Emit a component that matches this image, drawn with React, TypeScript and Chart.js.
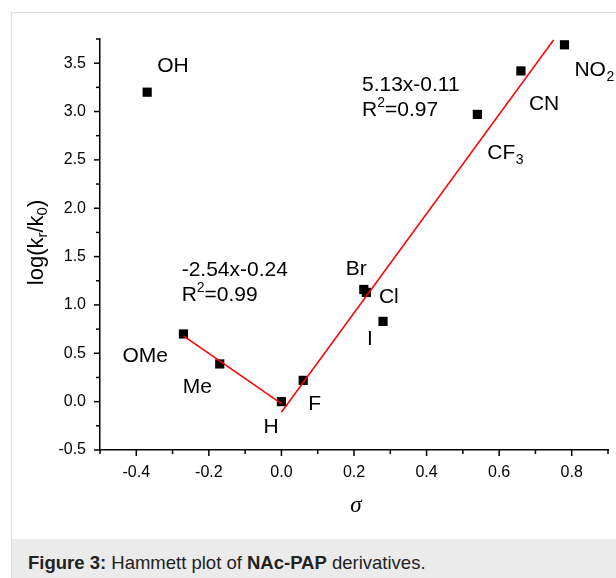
import React, { useEffect, useRef } from "react";
import { Chart, registerables } from "chart.js";

Chart.register(...registerables);

// ---------- data ----------
const substituents = ["OH", "OMe", "Me", "H", "F", "Br", "Cl", "I", "CF3", "CN", "NO2"];
const sigmaValues = [-0.37, -0.27, -0.17, 0.0, 0.06, 0.227, 0.234, 0.28, 0.54, 0.66, 0.78];
const logKValues = [3.2, 0.7, 0.39, 0.0, 0.22, 1.16, 1.13, 0.83, 2.97, 3.42, 3.69];

// label text split into main part + subscript
const labelMain = ["OH", "OMe", "Me", "H", "F", "Br", "Cl", "I", "CF", "CN", "NO"];
const labelSub = ["", "", "", "", "", "", "", "", "3", "", "2"];
// label offsets from the point (px), left edge / vertical middle
const labelOffsets: [number, number][] = [
  [10, -26], [-61, 22], [-37, 23], [-18, 26], [5, 23.5], [-18, -20],
  [12.6, 4.7], [-16, 18], [10, 39], [8, 33], [10, 25],
];

// fit lines
const fitLeftX = [-0.27, 0.0];
const fitLeftY = [0.68, -0.02];
const fitRightX = [0.0, 0.75];
const fitRightY = [-0.11, 3.74];

// equation annotations
const eqLeftText = "-2.54x-0.24";
const eqLeftR2 = "0.99";
const eqLeftAnchor = [-0.275, 1.355];
const eqRightText = "5.13x-0.11";
const eqRightR2 = "0.97";
const eqRightAnchor = [0.222, 3.275];

// axes
const xMin = -0.5, xMax = 0.9, xStep = 0.1;
const yMin = -0.5, yMax = 3.75, yStep = 0.25;

const FONT = '"Liberation Sans", Arial, Helvetica, sans-serif';
const SERIF = '"Liberation Serif", "Times New Roman", serif';

const annotPlugin = {
  id: "annot",
  afterDraw(chart: any) {
    const ctx: CanvasRenderingContext2D = chart.ctx;
    const xs = chart.scales.x;
    const ys = chart.scales.y;
    const ca = chart.chartArea;
    ctx.save();

    // tick marks (major longer, minor shorter)
    ctx.strokeStyle = "#000";
    ctx.lineWidth = 1.5;
    const nx = Math.round((xMax - xMin) / xStep);
    for (let i = 0; i <= nx; i++) {
      const v = xMin + i * xStep;
      const k = Math.round(v * 10);
      const major = k % 2 === 0;
      const px = xs.getPixelForValue(v);
      ctx.beginPath();
      ctx.moveTo(px, ca.bottom);
      ctx.lineTo(px, ca.bottom + (major ? 6 : 4));
      ctx.stroke();
    }
    const ny = Math.round((yMax - yMin) / yStep);
    for (let i = 0; i <= ny; i++) {
      const v = yMin + i * yStep;
      const k = Math.round(v * 4);
      const major = k % 2 === 0;
      const py = ys.getPixelForValue(v);
      ctx.beginPath();
      ctx.moveTo(ca.left, py);
      ctx.lineTo(ca.left - (major ? 6 : 4), py);
      ctx.stroke();
    }

    ctx.fillStyle = "#000";
    ctx.textBaseline = "middle";
    ctx.textAlign = "left";

    // point labels
    for (let i = 0; i < substituents.length; i++) {
      const px = xs.getPixelForValue(sigmaValues[i]) + labelOffsets[i][0];
      const py = ys.getPixelForValue(logKValues[i]) + labelOffsets[i][1];
      ctx.font = `21px ${FONT}`;
      ctx.fillText(labelMain[i], px, py);
      if (labelSub[i]) {
        const w = ctx.measureText(labelMain[i]).width;
        ctx.font = `14px ${FONT}`;
        ctx.fillText(labelSub[i], px + w + 0.5, py + 7);
      }
    }

    // equations
    const drawEq = (anchor: number[], text: string, r2: string) => {
      const px = xs.getPixelForValue(anchor[0]);
      const py = ys.getPixelForValue(anchor[1]);
      ctx.font = `21px ${FONT}`;
      ctx.fillText(text, px, py);
      const y2 = py + 25;
      ctx.fillText("R", px, y2);
      const wR = ctx.measureText("R").width;
      ctx.font = `14px ${FONT}`;
      ctx.fillText("2", px + wR, y2 - 7);
      const w2 = ctx.measureText("2").width;
      ctx.font = `21px ${FONT}`;
      ctx.fillText("=" + r2, px + wR + w2, y2);
    };
    drawEq(eqLeftAnchor, eqLeftText, eqLeftR2);
    drawEq(eqRightAnchor, eqRightText, eqRightR2);

    // y-axis title with subscripts
    const parts: [string, boolean][] = [["log(k", false], ["r", true], ["/k", false], ["0", true], [")", false]];
    const mainFont = `22px ${FONT}`;
    const subFont = `15px ${FONT}`;
    let total = 0;
    for (const [t, sub] of parts) {
      ctx.font = sub ? subFont : mainFont;
      total += ctx.measureText(t).width;
    }
    ctx.save();
    ctx.translate(37, (ca.top + ca.bottom) / 2 - 2);
    ctx.rotate(-Math.PI / 2);
    let cx = -total / 2;
    for (const [t, sub] of parts) {
      ctx.font = sub ? subFont : mainFont;
      ctx.fillText(t, cx, sub ? 6 : 0);
      cx += ctx.measureText(t).width;
    }
    ctx.restore();

    // x-axis title
    ctx.font = `italic 23px ${SERIF}`;
    ctx.textAlign = "center";
    ctx.fillText("\u03c3", (ca.left + ca.right) / 2 + 2, 506);

    ctx.restore();
  },
};

export default function App() {
  const ref = useRef<HTMLCanvasElement | null>(null);

  useEffect(() => {
    if (!ref.current) return;
    document.body.style.overflow = "hidden";
    const fmt = (v: number) => (Math.abs(v) < 1e-9 ? "0.0" : Number(v).toFixed(1));
    const chart = new Chart(ref.current, {
      type: "scatter",
      data: {
        datasets: [
          {
            data: fitLeftX.map((x, i) => ({ x, y: fitLeftY[i] })),
            showLine: true,
            borderColor: "#ff0000",
            borderWidth: 1.5,
            pointRadius: 0,
            fill: false,
          },
          {
            data: fitRightX.map((x, i) => ({ x, y: fitRightY[i] })),
            showLine: true,
            borderColor: "#ff0000",
            borderWidth: 1.5,
            pointRadius: 0,
            fill: false,
          },
          {
            data: sigmaValues.map((x, i) => ({ x, y: logKValues[i] })),
            pointStyle: "rect",
            pointRadius: 6.5,
            backgroundColor: "#000",
            borderWidth: 0,
            showLine: false,
          },
        ],
      },
      options: {
        animation: false,
        responsive: false,
        devicePixelRatio: 1,
        layout: { padding: { left: 0, right: 8, top: 39, bottom: 0 } },
        plugins: { legend: { display: false }, tooltip: { enabled: false } },
        scales: {
          x: {
            type: "linear",
            min: xMin,
            max: xMax,
            grid: { display: false, drawTicks: false },
            border: { display: true, color: "#000", width: 1.5 },
            ticks: {
              stepSize: xStep,
              autoSkip: false,
              maxRotation: 0,
              color: "#000",
              padding: 13,
              font: { family: FONT, size: 16 },
              callback: (v: any) => (Math.round(Number(v) * 10) % 2 === 0 ? fmt(Number(v)) : ""),
            },
            afterFit: (s: any) => {
              s.height = 88;
              s.paddingLeft = 0;
              s.paddingRight = 0;
            },
          },
          y: {
            type: "linear",
            min: yMin,
            max: yMax,
            grid: { display: false, drawTicks: false },
            border: { display: true, color: "#000", width: 1.5 },
            ticks: {
              stepSize: yStep,
              autoSkip: false,
              color: "#000",
              padding: 14,
              font: { family: FONT, size: 16 },
              callback: (v: any) => (Math.round(Number(v) * 4) % 2 === 0 ? fmt(Number(v)) : ""),
            },
            afterFit: (s: any) => {
              s.width = 100;
              s.paddingTop = 0;
              s.paddingBottom = 0;
            },
          },
        },
      } as any,
      plugins: [annotPlugin],
    });
    return () => chart.destroy();
  }, []);

  return (
    <div style={{ position: "absolute", left: 0, top: 0, width: 616, height: 578, background: "#fff", overflow: "hidden" }}>
      <div
        style={{
          position: "absolute",
          left: 11,
          top: 12,
          width: 605,
          height: 566,
          borderLeft: "1px solid #dcdcdc",
          borderTop: "1px solid #dcdcdc",
          boxSizing: "border-box",
        }}
      />
      <div
        style={{
          position: "absolute",
          left: 12,
          top: 539,
          width: 604,
          height: 39,
          background: "#ebebeb",
        }}
      />
      <div
        style={{
          position: "absolute",
          left: 28,
          top: 552,
          fontFamily: FONT,
          fontSize: 18.5,
          lineHeight: "22px",
          color: "#222",
          whiteSpace: "nowrap",
        }}
      >
        <b>Figure 3:</b> Hammett plot of <b>NAc-PAP</b> derivatives.
      </div>
      <canvas ref={ref} width={616} height={538} style={{ position: "absolute", left: 0, top: 0, width: 616, height: 538 }} />
    </div>
  );
}
